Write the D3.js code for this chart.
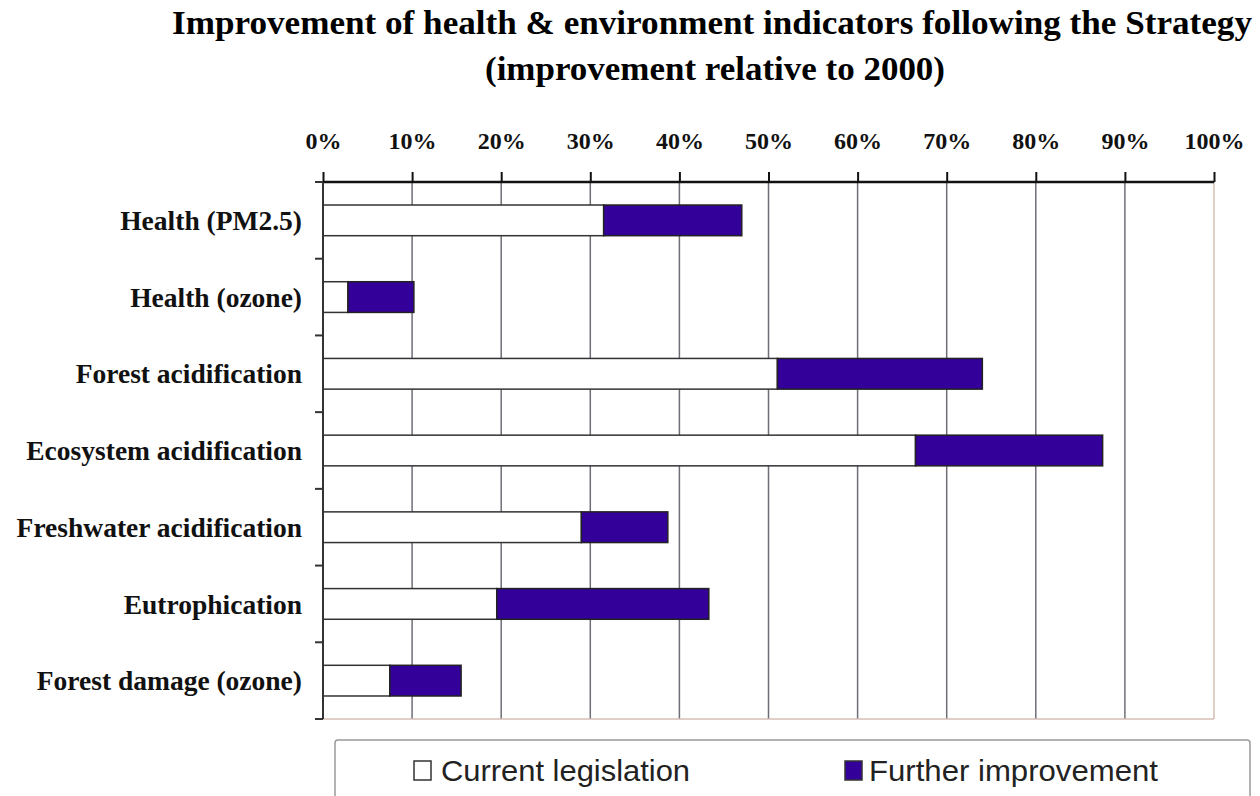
<!DOCTYPE html>
<html>
<head>
<meta charset="utf-8">
<script src="https://cdn.jsdelivr.net/npm/d3@7"></script>
<style>
  body { margin: 0; background: #fff; }
  svg { display: block; }
</style>
</head>
<body>
<div id="chart"></div>
<script>
// data (percent improvement relative to 2000)
const categories = [
    "Health (PM2.5)",
    "Health (ozone)",
    "Forest acidification",
    "Ecosystem acidification",
    "Freshwater acidification",
    "Eutrophication",
    "Forest damage (ozone)"
];
const currentLegislation = [31.5, 2.8, 51.0, 66.5, 29.0, 19.5, 7.5];
const furtherImprovement = [15.5, 7.4, 23.0, 21.0, 9.7, 23.8, 8.0];
const tickValues = [0, 10, 20, 30, 40, 50, 60, 70, 80, 90, 100];
const seriesNames = ["Current legislation", "Further improvement"];

const W = 1260, H = 796;
const margin = { top: 182, right: 46, bottom: 77, left: 323 };
const width = W - margin.left - margin.right;
const height = H - margin.top - margin.bottom;
const serif = "'Liberation Serif', 'Times New Roman', serif";

const svg = d3.select("#chart")
    .append("svg")
    .attr("width", W)
    .attr("height", H);

// title
svg.append("text")
    .attr("x", 712)
    .attr("y", 34)
    .attr("text-anchor", "middle")
    .attr("textLength", 1080)
    .attr("lengthAdjust", "spacingAndGlyphs")
    .style("font-family", serif)
    .style("font-weight", "bold")
    .style("font-size", "33px")
    .text("Improvement of health & environment indicators following the Strategy");

svg.append("text")
    .attr("x", 715)
    .attr("y", 80)
    .attr("text-anchor", "middle")
    .attr("textLength", 460)
    .attr("lengthAdjust", "spacingAndGlyphs")
    .style("font-family", serif)
    .style("font-weight", "bold")
    .style("font-size", "33px")
    .text("(improvement relative to 2000)");

const g = svg.append("g")
    .attr("transform", `translate(${margin.left},${margin.top})`);

const x = d3.scaleLinear()
    .domain([0, 100])
    .range([0, width]);

const y = d3.scaleBand()
    .domain(categories)
    .range([0, height])
    .paddingInner(0.6)
    .paddingOuter(0.3);

// gridlines
g.append("g")
    .selectAll("line")
    .data(tickValues.slice(1, -1))
    .join("line")
    .attr("x1", d => x(d))
    .attr("x2", d => x(d))
    .attr("y1", 0)
    .attr("y2", height)
    .attr("stroke", "#6e6e78")
    .attr("stroke-width", 1.5);

// plot border right & bottom (tan)
g.append("line")
    .attr("x1", x(100)).attr("x2", x(100))
    .attr("y1", 0).attr("y2", height)
    .attr("stroke", "#d4bfb4").attr("stroke-width", 1.5);
g.append("line")
    .attr("x1", 0).attr("x2", x(100))
    .attr("y1", height).attr("y2", height)
    .attr("stroke", "#d4bfb4").attr("stroke-width", 1.5);

// stacked bars
const rows = categories.map((c, i) => ({
    cat: c,
    cur: currentLegislation[i],
    fur: furtherImprovement[i]
}));

g.append("g")
    .selectAll("rect")
    .data(rows)
    .join("rect")
    .attr("x", x(0))
    .attr("y", d => y(d.cat))
    .attr("width", d => x(d.cur) - x(0))
    .attr("height", y.bandwidth())
    .attr("fill", "#fff")
    .attr("stroke", "#333")
    .attr("stroke-width", 1.5);

g.append("g")
    .selectAll("rect")
    .data(rows)
    .join("rect")
    .attr("x", d => x(d.cur))
    .attr("y", d => y(d.cat))
    .attr("width", d => x(d.cur + d.fur) - x(d.cur))
    .attr("height", y.bandwidth())
    .attr("fill", "#330099")
    .attr("stroke", "#222")
    .attr("stroke-width", 1.5);

// top axis
const xAxis = g.append("g")
    .call(d3.axisTop(x)
        .tickValues(tickValues)
        .tickSize(10)
        .tickPadding(23)
        .tickFormat(d => d + "%"));
xAxis.select(".domain").attr("stroke", "#111").attr("stroke-width", 2.5).attr("d", `M0,0H${width}`);
xAxis.selectAll(".tick line").attr("stroke", "#111").attr("stroke-width", 2);
xAxis.selectAll(".tick text")
    .attr("fill", "#111")
    .style("font-family", serif)
    .style("font-weight", "bold")
    .style("font-size", "24px");

// left axis with ticks between categories
const yAxis = g.append("g");
yAxis.append("line")
    .attr("x1", 0).attr("x2", 0)
    .attr("y1", 0).attr("y2", height)
    .attr("stroke", "#333").attr("stroke-width", 2);

yAxis.selectAll(".sep")
    .data(d3.range(categories.length + 1))
    .join("line")
    .attr("class", "sep")
    .attr("x1", -8).attr("x2", 0)
    .attr("y1", i => i * height / categories.length)
    .attr("y2", i => i * height / categories.length)
    .attr("stroke", "#333").attr("stroke-width", 2);

yAxis.selectAll(".lab")
    .data(categories)
    .join("text")
    .attr("class", "lab")
    .attr("x", -21)
    .attr("y", d => y(d) + y.bandwidth() / 2)
    .attr("dy", "0.35em")
    .attr("text-anchor", "end")
    .attr("fill", "#111")
    .style("font-family", serif)
    .style("font-weight", "bold")
    .style("font-size", "27.5px")
    .text(d => d);

// legend
const legend = svg.append("g");
legend.append("rect")
    .attr("x", 335).attr("y", 740)
    .attr("width", 915).attr("height", 70)
    .attr("rx", 3)
    .attr("fill", "#fff")
    .attr("stroke", "#999")
    .attr("stroke-width", 1.5);

const legendItems = [
    { name: seriesNames[0], fill: "#fff", x: 414, tx: 441, len: 249 },
    { name: seriesNames[1], fill: "#330099", x: 845, tx: 869, len: 289 }
];
legendItems.forEach(it => {
    legend.append("rect")
        .attr("x", it.x).attr("y", 761)
        .attr("width", 17).attr("height", 19)
        .attr("fill", it.fill)
        .attr("stroke", "#333")
        .attr("stroke-width", 1.5);
    legend.append("text")
        .attr("x", it.tx).attr("y", 781)
        .attr("fill", "#222")
        .attr("textLength", it.len)
        .attr("lengthAdjust", "spacingAndGlyphs")
        .style("font-family", "'Liberation Sans', Arial, sans-serif")
        .style("font-size", "29px")
        .text(it.name);
});
</script>
</body>
</html>
